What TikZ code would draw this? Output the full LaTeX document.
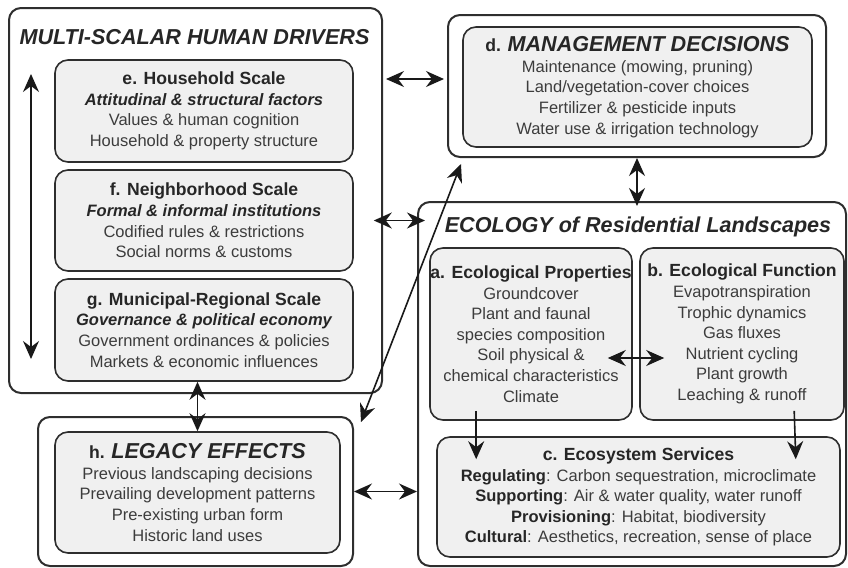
\documentclass[tikz,border=0pt]{standalone}
\usepackage{fontspec}
\setmainfont{Liberation Sans}
\usetikzlibrary{arrows.meta,calc}
\definecolor{boxfill}{HTML}{F0F0F0}
\definecolor{boxline}{HTML}{2E2E2E}
\definecolor{bodytext}{HTML}{3C3C3C}
\newcommand{\bodysize}{\fontsize{8.25}{10.3}\selectfont}
\newcommand{\headsize}{\fontsize{8.8}{10.6}\selectfont}
\newcommand{\titlesize}{\fontsize{10.8}{12}\selectfont}
\newcommand{\boxhead}[1]{{\headsize\bfseries\color{black!85}#1}}
\newcommand{\boxsub}[1]{{\bfseries\itshape\color{black!85}#1}}
\newcommand{\svc}[1]{{\bfseries\color{black!85}#1}}
\tikzset{
  outerbox/.style={draw=boxline, line width=1pt, rounded corners=6pt, inner sep=0pt},
  innerbox/.style={draw=boxline, fill=boxfill, line width=0.8pt, rounded corners=6.5pt,
    align=center, text=bodytext, font=\bodysize, inner sep=0pt},
  boxtitle/.style={font=\titlesize\bfseries\itshape, text=black!85},
  twoway/.style={<->, line width=0.8pt, black!90},
  oneway/.style={->, line width=0.8pt, black!90},
}
\begin{document}
\begin{tikzpicture}[x=0.5pt, y=-0.5pt, >={Stealth[length=9pt,width=8pt,inset=3pt]}]
\useasboundingbox (0,0) rectangle (848,568);

% human drivers
\node[outerbox, minimum width=186.5pt, minimum height=192.5pt] (drivers) at (195.5,200.5) {};
\node[boxtitle] (driverstitle) at (194.5,37) {MULTI-SCALAR HUMAN DRIVERS};
\node[innerbox, minimum width=149pt, minimum height=51pt] (e) at (204,111)
  {\boxhead{e. Household Scale}\\ \boxsub{Attitudinal \& structural factors}\\
   Values \& human cognition\\ Household \& property structure};
\node[innerbox, minimum width=149pt, minimum height=50.5pt] (f) at (204,220.5)
  {\boxhead{f. Neighborhood Scale}\\ \boxsub{Formal \& informal institutions}\\
   Codified rules \& restrictions\\ Social norms \& customs};
\node[innerbox, minimum width=149pt, minimum height=51pt] (g) at (204,330)
  {\boxhead{g. Municipal-Regional Scale}\\ \boxsub{Governance \& political economy}\\
   Government ordinances \& policies\\ Markets \& economic influences};

% management
\node[outerbox, minimum width=189pt, minimum height=71pt] (mgmt) at (637,86) {};
\node[innerbox, minimum width=174.5pt, minimum height=60pt] (d) at (637.5,87)
  {\boxhead{d. {\titlesize\itshape MANAGEMENT DECISIONS}}\\
   Maintenance (mowing, pruning)\\ Land/vegetation-cover choices\\
   Fertilizer \& pesticide inputs\\ Water use \& irrigation technology};

% ecology
\node[outerbox, minimum width=214pt, minimum height=182pt] (eco) at (632,384) {};
\node[boxtitle] (ecotitle) at (638,227) {ECOLOGY of Residential Landscapes};
\node[innerbox, minimum width=101pt, minimum height=86pt] (a) at (531,334)
  {\boxhead{a. Ecological Properties}\\ Groundcover\\ Plant and faunal\\
   species composition\\ Soil physical \&\\ chemical characteristics\\ Climate};
\node[innerbox, minimum width=102pt, minimum height=86pt] (b) at (742,334)
  {\boxhead{b. Ecological Function}\\ Evapotranspiration\\ Trophic dynamics\\
   Gas fluxes\\ Nutrient cycling\\ Plant growth\\ Leaching \& runoff};
\node[innerbox, minimum width=201.5pt, minimum height=60pt] (c) at (638.5,497)
  {\boxhead{c. Ecosystem Services}\\
   \svc{Regulating}: Carbon sequestration, microclimate\\
   \svc{Supporting}: Air \& water quality, water runoff\\
   \svc{Provisioning}: Habitat, biodiversity\\
   \svc{Cultural}: Aesthetics, recreation, sense of place};

% legacy
\node[outerbox, minimum width=157.5pt, minimum height=74.5pt] (legacy) at (195.5,491.5) {};
\node[innerbox, minimum width=142.5pt, minimum height=60.5pt] (h) at (197.5,492.5)
  {\boxhead{h. {\titlesize\itshape LEGACY EFFECTS}}\\
   Previous landscaping decisions\\ Prevailing development patterns\\
   Pre-existing urban form\\ Historic land uses};

% links
\draw[twoway] ($(drivers.north west)+(23,67)$) -- ($(drivers.south west)+(23,-35)$);
\draw[twoway] ($(drivers.north east)+(3,72)$) -- ($(mgmt.north west)+(-3,65)$);
\draw[twoway] ($(f.east)+(20,0)$) -- ($(eco.west |- f.east)+(8,0)$);
\draw[twoway] (mgmt.south) -- ($(mgmt.south |- eco.north)+(0,5)$);
\draw[twoway] ($(legacy.north east)+(7,6)$) -- ($(mgmt.south west)+(14,6)$);
\draw[twoway] (h.north |- g.south) -- (h.north);
\draw[twoway] (legacy.east) -- (eco.west |- legacy.east);
\draw[twoway] ($(a.east)+(-25,24)$) -- ($(b.west)+(25,24)$);
\draw[oneway] ($(a.south west)+(47,-10)$) -- ($(c.north west)+(40,23)$);
\draw[oneway] ($(b.south west)+(155,-10)$) -- ($(c.north east)+(-45,23)$);
\end{tikzpicture}
\end{document}
